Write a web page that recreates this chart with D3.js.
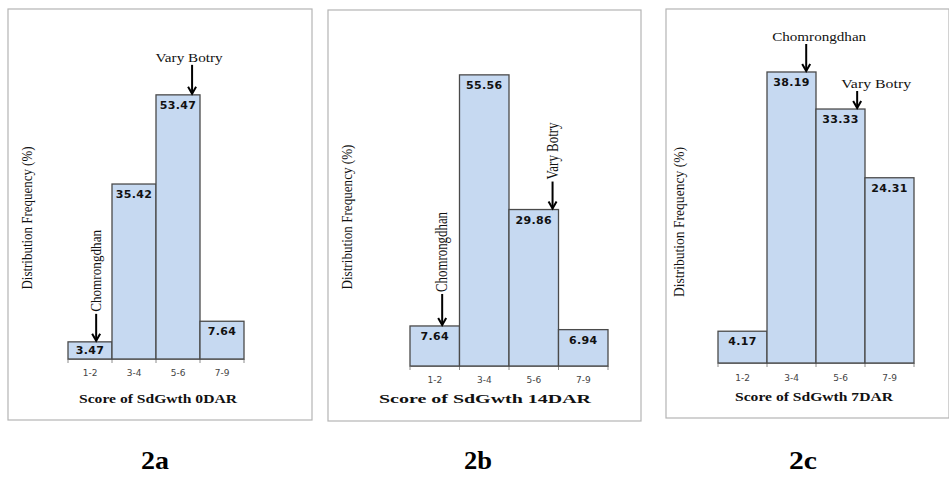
<!DOCTYPE html>
<html>
<head>
<meta charset="utf-8">
<script src="https://cdn.jsdelivr.net/npm/d3@7"></script>
<style>
  body { margin: 0; background: #fff; }
  svg { display: block; }
</style>
</head>
<body>
<div id="chart"></div>
<script>
// data
const categories = ['1-2', '3-4', '5-6', '7-9'];
const freq0DAR = [3.47, 35.42, 53.47, 7.64];
const freq14DAR = [7.64, 55.56, 29.86, 6.94];
const freq7DAR = [4.17, 38.19, 33.33, 24.31];
const xTitles = ['Score of SdGwth  0DAR', 'Score of SdGwth  14DAR', 'Score of SdGwth  7DAR'];
const panelTags = ['2a', '2b', '2c'];
const yTitle = 'Distribution  Frequency (%)';
const notes0DAR = [['Chomrongdhan', '1-2'], ['Vary Botry', '5-6']];
const notes14DAR = [['Chomrongdhan', '1-2'], ['Vary Botry', '5-6']];
const notes7DAR = [['Chomrongdhan', '3-4'], ['Vary Botry', '5-6']];

const width = 949;
const height = 481;

// layout of each panel (pixels)
const panels = [
  {
    values: freq0DAR, notes: notes0DAR, title: xTitles[0], tag: panelTags[0],
    box: [8, 9, 312, 420], bars: [68, 244], base: 359, yMax: 60, top: 62.6,
    tickY: 376, titleX: 158, titleY: 403, titleW: 158,
    yTitleX: 32, yTitleY: 218, yTitleW: 143, tagX: 155,
    noteStyle: [
      { frac: 0.64, len: 28, rotated: true, size: 15, textW: 82 },
      { frac: 0.82, len: 30, rotated: false, size: 13, textDx: -3, textW: 67 }
    ]
  },
  {
    values: freq14DAR, notes: notes14DAR, title: xTitles[1], tag: panelTags[1],
    box: [328, 10, 641, 421], bars: [410, 608], base: 366, yMax: 60, top: 51.6,
    tickY: 383, titleX: 485, titleY: 403, titleW: 212,
    yTitleX: 352, yTitleY: 217, yTitleW: 145, tagX: 478,
    noteStyle: [
      { frac: 0.65, len: 32, rotated: true, size: 16, textW: 80 },
      { frac: 0.88, len: 28, rotated: true, size: 16, textW: 57 }
    ]
  },
  {
    values: freq7DAR, notes: notes7DAR, title: xTitles[2], tag: panelTags[2],
    box: [666, 9, 949, 418], bars: [718, 914], base: 363, yMax: 40, top: 58.2,
    tickY: 381, titleX: 814, titleY: 401, titleW: 158,
    yTitleX: 684, yTitleY: 222, yTitleW: 150, tagX: 803,
    noteStyle: [
      { frac: 0.8, len: 28, rotated: false, size: 13, textDx: 13, textW: 94 },
      { frac: 0.84, len: 18, rotated: false, size: 13, textDx: 19, textW: 70 }
    ]
  }
];

const serif = '"Liberation Serif", "Times New Roman", serif';
const sans = '"DejaVu Sans", Verdana, sans-serif';

const svg = d3.select('#chart')
  .append('svg')
  .attr('width', width)
  .attr('height', height)
  .attr('viewBox', `0 0 ${width} ${height}`);

function drawArrow (g, x, y1, y2) {
  g.append('line')
    .attr('x1', x).attr('x2', x)
    .attr('y1', y1).attr('y2', y2 - 1)
    .attr('stroke', '#000')
    .attr('stroke-width', 2);
  g.append('polyline')
    .attr('points', `${x - 4},${y2 - 8} ${x},${y2 - 1} ${x + 4},${y2 - 8}`)
    .attr('fill', 'none')
    .attr('stroke', '#000')
    .attr('stroke-width', 2);
}

panels.forEach((p) => {
  const g = svg.append('g');
  const [bx0, by0, bx1, by1] = p.box;

  // panel frame
  g.append('rect')
    .attr('x', bx0).attr('y', by0)
    .attr('width', bx1 - bx0).attr('height', by1 - by0)
    .attr('fill', 'none')
    .attr('stroke', '#b4b4b4')
    .attr('stroke-width', 1.2);

  const x = d3.scaleBand().domain(categories).range(p.bars).padding(0);
  const y = d3.scaleLinear().domain([0, p.yMax]).range([p.base, p.top]);
  const bw = x.bandwidth();

  // axis along the bottom, ticks at the bar edges
  const axis = g.append('g')
    .attr('transform', `translate(0,${p.base})`)
    .call(d3.axisBottom(x).tickSize(0).tickPadding(p.tickY - p.base - 6));
  axis.select('.domain').attr('stroke', '#8c8c8c').attr('stroke-width', 1.2);
  axis.selectAll('text')
    .attr('font-family', sans)
    .attr('font-size', 9)
    .attr('fill', '#444');

  const edges = categories.map((c) => x(c)).concat([x(categories[categories.length - 1]) + bw]);
  g.selectAll('line.edge')
    .data(edges)
    .enter()
    .append('line')
    .attr('class', 'edge')
    .attr('x1', (d) => d).attr('x2', (d) => d)
    .attr('y1', p.base).attr('y2', p.base + 4)
    .attr('stroke', '#8c8c8c');

  // bars
  g.selectAll('rect.bar')
    .data(p.values)
    .enter()
    .append('rect')
    .attr('class', 'bar')
    .attr('x', (d, i) => x(categories[i]))
    .attr('y', (d) => y(d))
    .attr('width', bw)
    .attr('height', (d) => y(0) - y(d))
    .attr('fill', '#c6d9f1')
    .attr('stroke', '#4a4a4a')
    .attr('stroke-width', 1.3);

  // value labels inside the top of each bar
  g.selectAll('text.val')
    .data(p.values)
    .enter()
    .append('text')
    .attr('class', 'val')
    .attr('x', (d, i) => x(categories[i]) + bw / 2)
    .attr('y', (d) => Math.min(y(d) + 14, p.base - 5))
    .attr('text-anchor', 'middle')
    .attr('font-family', sans)
    .attr('font-weight', 'bold')
    .attr('font-size', 11)
    .attr('letter-spacing', 0.3)
    .attr('fill', '#111')
    .text((d) => d.toFixed(2));

  // axis titles
  g.append('text')
    .attr('x', p.titleX)
    .attr('y', p.titleY)
    .attr('text-anchor', 'middle')
    .attr('font-family', serif)
    .attr('font-weight', 'bold')
    .attr('font-size', 13)
    .attr('textLength', p.titleW)
    .attr('lengthAdjust', 'spacingAndGlyphs')
    .attr('fill', '#111')
    .text(p.title);

  g.append('text')
    .attr('transform', `translate(${p.yTitleX},${p.yTitleY})rotate(-90)`)
    .attr('text-anchor', 'middle')
    .attr('font-family', serif)
    .attr('font-size', 14.5)
    .attr('textLength', p.yTitleW)
    .attr('lengthAdjust', 'spacingAndGlyphs')
    .attr('fill', '#111')
    .text(yTitle);

  // variety annotations with arrows
  p.notes.forEach(([label, cat], k) => {
    const s = p.noteStyle[k];
    const i = categories.indexOf(cat);
    const ax = x(cat) + bw * s.frac;
    const tip = y(p.values[i]);
    const start = tip - s.len;
    drawArrow(g, ax, start, tip);

    const t = g.append('text')
      .attr('font-family', serif)
      .attr('font-size', s.size)
      .attr('textLength', s.textW)
      .attr('lengthAdjust', 'spacingAndGlyphs')
      .attr('fill', '#111')
      .text(label);

    if (s.rotated) {
      t.attr('transform', `translate(${ax + s.size * 0.33},${start - 2})rotate(-90)`)
        .attr('text-anchor', 'start');
    } else {
      t.attr('x', ax + s.textDx)
        .attr('y', start - 3)
        .attr('text-anchor', 'middle');
    }
  });

  // panel tag below
  svg.append('text')
    .attr('x', p.tagX)
    .attr('y', 469)
    .attr('text-anchor', 'middle')
    .attr('font-family', serif)
    .attr('font-weight', 'bold')
    .attr('font-size', 26)
    .attr('textLength', 28)
    .attr('lengthAdjust', 'spacingAndGlyphs')
    .attr('fill', '#000')
    .text(p.tag);
});
</script>
</body>
</html>
